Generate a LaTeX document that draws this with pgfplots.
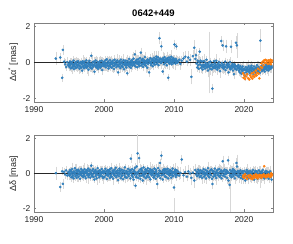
\documentclass[border=0pt]{standalone}
\usepackage{fontspec}
\setmainfont{Liberation Sans}
\usepackage{pgfplots}
\usepackage{pgfplotstable}
\pgfplotsset{compat=1.18}
\definecolor{mblue}{RGB}{49,128,189}
\definecolor{morange}{RGB}{255,127,14}
\definecolor{ebar}{RGB}{215,215,215}

\pgfplotstableread{
t da e dd
1993.12 0.22 0.30 0.02
1993.75 0.28 0.20 -0.77
1994.02 -0.85 0.15 0.12
1994.12 0.70 0.20 -0.59
1994.30 0.05 0.15 0.10
1994.45 -0.10 0.2 -0.05
1994.60 -0.25 0.15 0.18
1994.75 0.02 0.2 -0.12
1994.88 -0.15 0.12 0.06
1995.00 -0.07 0.12 0.10
1995.06 -0.24 0.18 -0.12
1995.14 0.06 0.10 0.20
1995.19 -0.15 0.25 -0.05
1995.26 -0.33 0.14 0.15
1995.32 -0.03 0.2 -0.22
1995.40 0.02 0.11 0.03
1995.45 -0.28 0.3 0.25
1995.52 -0.11 0.15 -0.10
1995.58 -0.20 0.12 0.07
1995.66 0.10 0.18 -0.28
1995.71 -0.37 0.1 0.12
1995.78 -0.06 0.25 -0.02
1995.84 -0.22 0.14 0.30
1995.92 0.00 0.2 -0.15
1995.97 -0.31 0.11 0.04
1996.04 -0.09 0.3 0.18
1996.10 0.04 0.15 -0.25
1996.18 -0.17 0.12 0.09
1996.23 -0.26 0.18 -0.07
1996.30 0.08 0.1 0.22
1996.36 -0.14 0.25 -0.18
1996.44 -0.02 0.14 0.01
1996.49 -0.35 0.2 0.14
1996.56 -0.04 0.11 -0.30
1996.62 -0.23 0.3 0.06
1996.70 0.03 0.15 -0.08
1996.75 -0.29 0.12 0.26
1996.82 -0.10 0.18 -0.13
1996.88 -0.45 0.10 0.02
1996.96 0.07 0.25 0.17
1997.01 -0.19 0.14 -0.21
1997.08 -0.01 0.2 0.08
1997.14 -0.32 0.11 -0.04
1997.22 -0.08 0.3 0.24
1997.27 0.05 0.15 -0.16
1997.34 -0.25 0.12 0.11
1997.40 -0.13 0.18 -0.27
1997.48 0.12 0.10 0.05
1997.53 -0.30 0.25 0.19
1997.60 -0.05 0.14 -0.09
1997.66 -0.21 0.2 0.00
1997.74 0.00 0.11 0.28
1997.79 -0.40 0.3 -0.20
1997.86 -0.12 0.15 0.13
1997.92 0.09 0.12 -0.06
1998.00 -0.27 0.18 0.21
1998.05 -0.06 0.1 -0.24
1998.12 -0.18 0.25 0.07
1998.18 0.38 0.14 0.45
1998.26 -0.34 0.2 -0.11
1998.31 -0.09 0.11 0.16
1998.38 0.02 0.3 -0.03
1998.44 -0.24 0.15 0.25
1998.52 -0.14 0.12 -0.19
1998.57 0.06 0.18 0.09
1998.64 -0.52 0.1 -0.35
1998.70 -0.03 0.25 0.03
1998.78 -0.20 0.14 0.20
1998.83 0.11 0.2 -0.14
1998.90 -0.28 0.11 0.10
1998.96 -0.08 0.3 -0.28
1999.04 -0.16 0.15 0.06
1999.09 0.04 0.12 0.31
1999.16 -0.36 0.18 -0.08
1999.22 -0.11 0.1 0.14
1999.30 -0.01 0.25 -0.22
1999.35 -0.23 0.14 0.04
1999.42 0.08 0.2 0.18
1999.48 -0.30 0.11 -0.12
1999.56 -0.07 0.3 0.08
1999.61 -0.19 0.15 -0.02
1999.68 0.10 0.12 0.26
1999.74 -0.42 0.18 -0.17
1999.82 -0.05 0.1 0.11
1999.87 -0.15 0.25 -0.26
1999.94 0.03 0.14 0.01
2000.00 -0.21 0.2 0.15
2000.07 0.00 0.11 -0.20
2000.13 -0.12 0.3 0.06
2000.20 0.12 0.15 0.27
2000.26 -0.27 0.12 -0.09
2000.33 -0.04 0.18 0.12
2000.39 0.18 0.1 -0.31
2000.46 -0.18 0.25 0.00
2000.52 -0.08 0.14 0.19
2000.59 0.06 0.2 -0.14
2000.65 -0.33 0.11 0.08
2000.72 -0.01 0.3 -0.04
2000.78 -0.15 0.15 0.23
2000.85 0.14 0.12 -0.25
2000.91 -0.24 0.18 0.10
2000.98 -0.06 0.1 -0.07
2001.04 0.03 0.25 0.30
2001.11 -0.29 0.14 -0.18
2001.17 -0.10 0.2 0.04
2001.24 0.09 0.11 0.16
2001.30 -0.20 0.3 -0.29
2001.37 -0.02 0.15 0.09
2001.43 -0.36 0.12 -0.06
2001.50 0.15 0.18 0.21
2001.56 -0.13 0.1 -0.12
2001.63 -0.05 0.25 0.02
2001.69 0.05 0.14 0.33
2001.76 -0.26 0.2 -0.21
2001.82 -0.09 0.11 0.07
2001.89 0.11 0.3 -0.10
2001.95 -0.17 0.15 0.18
2002.02 -0.55 0.12 -0.38
2002.08 0.01 0.18 0.05
2002.15 -0.22 0.1 -0.16
2002.21 0.07 0.25 0.28
2002.28 -0.11 0.14 -0.02
2002.34 -0.31 0.2 0.13
2002.41 0.16 0.11 -0.27
2002.47 -0.03 0.3 0.01
2002.54 -0.19 0.15 0.22
2002.60 0.04 0.12 -0.11
2002.67 -0.25 0.18 0.10
2002.73 -0.07 0.1 -0.33
2002.80 0.13 0.25 0.06
2002.86 -0.38 0.14 0.17
2002.93 -0.12 0.2 -0.08
2002.99 0.02 0.11 0.35
2003.06 -0.16 0.3 -0.19
2003.12 0.10 0.15 0.03
2003.19 -0.28 0.12 0.14
2003.25 -0.06 0.18 -0.24
2003.32 -0.60 0.10 0.08
2003.38 0.08 0.25 -0.05
2003.45 -0.14 0.14 0.26
2003.51 -0.02 0.2 -0.15
2003.58 0.20 0.11 0.11
2003.64 -0.23 0.3 -0.01
2003.71 -0.09 0.15 0.20
2003.77 0.06 0.12 -0.28
2003.84 -0.30 0.18 0.85
2003.90 -0.04 0.1 0.04
2003.97 0.14 0.25 -0.12
2004.03 -0.18 0.14 0.25
2004.10 0.05 0.2 -0.20
2004.16 -0.08 0.11 0.09
2004.23 0.22 0.3 -0.35
2004.29 -0.14 0.15 0.18
2004.36 0.02 0.12 -0.06
2004.42 0.45 0.18 0.32
2004.49 -0.22 0.1 -0.70
2004.55 0.08 0.25 0.06
2004.62 -0.05 0.14 -0.15
2004.68 0.15 0.2 0.40
2004.75 -0.27 0.11 -0.02
2004.81 0.01 0.3 1.15
2004.88 0.18 0.15 -0.25
2004.94 -0.11 0.12 0.12
2005.01 0.06 0.18 0.88
2005.07 -0.20 0.1 -0.09
2005.14 0.25 0.25 0.22
2005.20 -0.03 0.14 -0.31
2005.27 0.55 0.2 0.07
2005.33 -0.16 0.11 0.28
2005.40 0.09 0.3 -0.12
2005.46 -0.07 0.15 0.15
2005.53 0.20 0.12 -0.40
2005.59 -0.24 0.18 0.02
2005.66 0.03 0.1 0.35
2005.72 0.12 0.25 -0.18
2005.79 -0.12 0.14 0.10
2005.85 0.30 0.2 -0.05
2005.92 -0.04 0.11 0.24
2005.98 -0.19 0.3 -0.27
2006.05 0.10 0.15 0.05
2006.11 0.04 0.12 0.19
2006.18 -0.29 0.18 -0.14
2006.24 0.17 0.1 0.30
2006.31 -0.08 0.25 -0.08
2006.37 0.07 0.14 0.13
2006.44 -0.55 0.2 -0.22
2006.50 0.14 0.11 0.04
2006.57 -0.02 0.3 0.26
2006.63 0.24 0.15 -0.33
2006.70 -0.15 0.12 0.08
2006.76 0.05 0.18 0.17
2006.83 -0.06 0.1 -0.11
2006.89 0.19 0.25 0.21
2006.96 -0.21 0.14 -0.03
2007.02 0.13 0.2 0.14
2007.09 -0.05 0.11 -0.23
2007.15 0.26 0.3 0.09
2007.22 0.02 0.15 0.28
2007.28 -0.12 0.12 -0.10
2007.35 0.18 0.18 0.05
2007.41 0.08 0.1 -0.30
2007.48 0.33 0.25 0.20
2007.54 -0.08 0.14 -0.04
2007.61 0.15 0.2 -0.60
2007.67 0.00 0.11 -0.18
2007.74 0.28 0.3 0.31
2007.80 -0.15 0.15 0.02
2007.87 0.11 0.12 -0.12
2007.93 1.35 0.25 0.16
2008.00 0.04 0.18 0.60
2008.06 0.21 0.1 -0.26
2008.13 -0.03 0.25 0.07
2008.19 0.90 0.2 1.02
2008.26 0.16 0.14 -0.08
2008.32 0.06 0.2 0.11
2008.39 -0.50 0.11 -0.34
2008.45 0.24 0.3 0.19
2008.52 0.09 0.15 -0.05
2008.58 -0.10 0.12 0.25
2008.65 0.30 0.18 0.15
2008.71 0.12 0.1 -0.16
2008.78 -0.02 0.25 0.04
2008.84 0.19 0.14 0.23
2008.91 0.07 0.2 -0.21
2008.97 -0.16 0.11 0.10
2009.04 0.23 0.3 -0.01
2009.10 0.05 0.15 0.27
2009.17 -0.85 0.12 -0.28
2009.23 0.14 0.18 0.06
2009.30 0.28 0.1 0.15
2009.36 -0.07 0.25 -0.11
2009.43 0.10 0.14 0.20
2009.49 0.20 0.2 -0.07
2009.56 0.01 0.11 0.09
2009.62 0.32 0.3 -0.24
2009.69 -0.10 0.15 0.13
2009.75 0.15 0.12 0.02
2009.82 0.06 0.18 0.28
2009.88 0.25 0.1 -0.15
2009.95 -0.04 0.25 0.07
2010.01 0.18 0.14 -0.80
2010.08 1.00 0.2 0.12
2010.14 0.08 0.11 -0.06
2010.21 -0.06 0.3 0.22
2010.27 0.20 0.15 -0.20
2010.34 0.90 0.12 0.05
2010.40 0.11 0.18 0.18
2010.47 -0.02 0.1 -0.09
2010.60 0.05 0.2 0.10
2010.75 0.15 0.15 -0.12
2010.92 -0.08 0.25 0.03
2011.10 0.10 0.2 0.80
2011.35 0.22 0.3 -0.10
2011.60 0.32 0.25 0.08
2011.85 0.05 0.2 -0.18
2012.05 0.28 0.3 0.12
2012.30 0.15 0.25 0.00
2012.50 -0.80 0.35 -0.25
2012.70 0.35 0.3 0.05
2012.90 0.82 0.35 -0.40
2013.05 0.20 0.25 0.20
2013.15 0.40 0.3 -0.05
2013.25 -0.05 0.2 0.10
2013.32 -0.28 0.15 -0.15
2013.39 0.10 0.3 0.05
2013.46 -0.15 0.2 0.22
2013.53 -0.35 0.15 -0.08
2013.60 0.02 0.25 0.15
2013.67 0.60 0.12 -0.20
2013.74 -0.10 0.2 0.03
2013.81 0.10 0.15 0.18
2013.88 -0.30 0.2 -0.12
2013.95 -0.18 0.12 0.08
2014.02 0.05 0.25 -0.25
2014.09 -0.40 0.15 0.12
2014.16 -0.12 0.2 -0.02
2014.23 -0.25 0.12 0.25
2014.30 0.08 0.3 -0.18
2014.37 -0.20 0.15 0.06
2014.44 -0.33 0.2 -0.10
2014.51 -0.02 0.12 0.20
2014.58 -0.18 0.25 -0.28
2014.65 0.15 0.15 0.02
2014.72 -0.28 0.2 0.14
2014.79 -0.08 0.12 -0.06
2014.86 -0.45 0.3 0.30
2014.93 -0.15 0.15 -0.15
2015.00 0.00 0.2 0.09
2015.07 -0.24 0.12 -0.22
2015.14 -0.35 0.25 0.04
2015.21 0.05 0.15 0.18
2015.28 -0.20 0.2 -0.10
2015.35 -0.10 0.12 0.24
2015.42 -0.38 0.3 -0.30
2015.49 -1.45 0.2 -0.60
2015.56 -0.12 0.15 0.08
2015.63 -0.30 0.2 -0.18
2015.70 0.08 0.12 0.12
2015.77 -0.22 0.25 -0.04
2015.84 -0.05 0.15 0.28
2015.91 -0.32 0.2 -0.14
2015.98 -0.15 0.12 0.06
2016.05 0.10 0.3 -0.26
2016.12 -0.26 0.15 0.16
2016.19 -0.40 0.2 -0.02
2016.26 -0.08 0.12 0.21
2016.33 -0.20 0.25 -0.12
2016.40 0.02 0.15 0.03
2016.47 -0.30 0.2 0.26
2016.54 -0.12 0.12 -0.20
2016.61 -0.48 0.3 0.10
2016.68 -0.18 0.15 -0.08
2016.75 1.20 0.2 0.18
2016.82 -0.03 0.12 -0.28
2016.89 -0.28 0.25 0.05
2016.96 0.95 0.25 0.70
2017.03 -0.22 0.15 -0.12
2017.10 -0.35 0.2 0.14
2017.17 -0.10 0.12 -0.05
2017.24 -0.25 0.25 0.22
2017.31 0.05 0.15 -0.18
2017.38 -0.42 0.2 0.08
2017.45 0.90 0.3 -0.02
2017.52 -0.15 0.12 0.18
2017.59 -0.30 0.25 -0.25
2017.66 -0.05 0.15 0.12
2017.73 -0.20 0.2 0.75
2017.80 -0.55 0.12 -0.40
2017.87 -0.12 0.25 0.02
2017.94 -0.28 0.15 -0.65
2018.01 0.02 0.2 0.20
2018.08 -0.38 0.12 -0.10
2018.15 0.88 0.3 0.08
2018.22 -0.18 0.15 -0.22
2018.29 -0.30 0.2 0.15
2018.36 -0.08 0.12 -0.05
2018.43 -0.45 0.25 0.25
2018.50 -0.22 0.15 -0.15
2018.57 -0.65 0.2 0.05
2018.64 -0.10 0.12 0.18
2018.71 -0.35 0.25 -0.28
2018.78 -0.18 0.15 0.10
2018.85 1.10 0.3 -0.08
2018.92 -0.40 0.2 0.60
2018.99 0.95 0.6 0.40
2019.06 -0.25 0.15 -0.12
2019.13 -0.32 0.2 0.15
2019.20 -0.15 0.12 0.02
2019.27 -0.45 0.25 -0.20
2019.34 -0.28 0.15 0.10
2019.41 -0.55 0.2 -0.08
2019.48 -0.20 0.12 0.18
2019.55 -0.38 0.25 -0.25
2019.62 -0.62 0.15 0.05
2019.69 -0.30 0.2 -0.12
2019.76 -0.48 0.12 0.12
2019.83 -0.22 0.25 -0.30
2019.90 -0.40 0.15 0.00
2019.97 -0.58 0.2 -0.18
2020.04 -0.35 0.12 0.15
2020.11 -0.72 0.25 -0.06
2020.18 -0.42 0.15 -0.40
2020.25 -0.25 0.2 0.08
2020.32 -0.55 0.12 -0.15
2020.39 -0.38 0.25 0.20
2020.46 -0.65 0.15 -0.22
2020.53 -0.30 0.2 -0.02
2020.60 -0.48 0.12 0.12
2020.67 -0.20 0.25 -0.28
2020.74 -0.52 0.15 0.04
2020.81 -0.35 0.2 -0.10
2020.88 -0.60 0.12 0.15
2020.95 -0.28 0.25 -0.18
2021.02 -0.45 0.15 0.02
2021.09 -0.18 0.2 -0.25
2021.16 -0.50 0.12 0.10
2021.23 -0.32 0.25 -0.08
2021.30 -0.62 0.15 0.20
2021.37 -0.40 0.2 -0.15
2021.44 -0.22 0.12 -0.35
2021.51 -0.48 0.25 0.06
2021.58 -0.35 0.15 -0.12
2021.65 -0.55 0.2 0.15
2021.72 -0.28 0.12 -0.05
2021.79 -0.42 0.25 -0.22
2021.86 -0.15 0.15 0.12
2021.93 -0.38 0.2 -0.30
2022.00 -0.52 0.12 0.00
2022.07 -0.25 0.25 -0.15
2022.14 -0.45 0.15 0.18
2022.21 -0.30 0.2 -0.08
2022.28 -0.58 0.12 0.10
2022.35 1.22 0.55 -0.20
2022.42 -0.35 0.15 0.05
2022.49 -0.20 0.2 -0.25
2022.56 -0.48 0.12 0.12
2022.63 -0.30 0.25 -0.10
2022.70 -0.42 0.15 0.20
2022.77 -0.15 0.2 -0.18
2022.84 -0.38 0.12 0.02
2022.91 -0.25 0.25 -0.28
2022.98 -0.50 0.15 0.08
2023.05 -0.22 0.2 -0.12
2023.12 -0.35 0.12 0.15
2023.19 -0.12 0.25 -0.05
2023.26 -0.40 0.15 -0.22
2023.33 -0.28 0.2 0.10
2023.40 -0.18 0.12 -0.15
2023.47 -0.45 0.25 0.05
2023.54 -0.30 0.15 -0.30
2023.61 -0.10 0.2 0.00
2023.68 -0.38 0.12 -0.12
2023.75 -0.25 0.25 0.12
2023.82 -0.15 0.15 -0.20
2023.89 -0.32 0.2 -0.05
2023.96 -0.20 0.12 -0.35
}\bluetab

% second, interleaved set of sessions in the dense years
\pgfplotstableread{
t da e dd
1995.03 -0.18 0.12 -0.02
1995.23 -0.08 0.15 0.12
1995.49 -0.25 0.12 -0.18
1995.75 -0.14 0.15 0.08
1996.01 -0.28 0.12 -0.10
1996.27 -0.12 0.15 0.15
1996.53 -0.20 0.12 -0.05
1996.79 -0.06 0.15 0.10
1997.05 -0.24 0.12 -0.14
1997.31 -0.15 0.15 0.04
1997.57 -0.22 0.12 0.16
1997.83 -0.09 0.15 -0.08
1998.09 -0.30 0.12 0.02
1998.35 -0.16 0.15 -0.16
1998.61 -0.11 0.12 0.12
1998.87 -0.19 0.15 -0.04
1999.13 -0.26 0.12 0.09
1999.39 -0.13 0.15 -0.12
1999.65 -0.21 0.12 0.05
1999.91 -0.10 0.15 -0.20
2000.17 -0.16 0.12 0.10
2000.43 -0.05 0.15 -0.06
2000.69 -0.20 0.12 0.14
2000.95 -0.11 0.15 -0.15
2001.21 -0.02 0.12 0.02
2001.47 -0.18 0.15 -0.10
2001.73 -0.08 0.12 0.12
2001.99 -0.14 0.15 -0.02
2002.25 -0.03 0.12 0.18
2002.51 -0.20 0.15 -0.14
2002.77 -0.09 0.12 0.06
2003.03 -0.01 0.15 -0.22
2003.29 -0.15 0.12 0.10
2003.55 -0.06 0.15 -0.04
2003.81 -0.12 0.12 0.16
2004.07 0.04 0.15 -0.08
2004.33 -0.10 0.12 0.12
2004.59 0.10 0.15 -0.22
2004.85 -0.06 0.12 0.05
2005.11 0.02 0.15 -0.14
2005.37 0.14 0.12 0.20
2005.63 -0.08 0.15 -0.06
2005.89 0.06 0.12 0.10
2006.15 -0.04 0.15 -0.18
2006.41 0.10 0.12 0.14
2006.67 0.00 0.15 -0.02
2006.93 0.12 0.12 0.08
2007.19 0.06 0.15 -0.14
2007.45 0.20 0.12 0.10
2007.71 0.04 0.15 -0.06
2007.97 0.16 0.12 0.16
2008.23 0.02 0.15 -0.10
2008.49 0.18 0.12 0.04
2008.75 0.08 0.15 -0.18
2009.01 0.14 0.12 0.12
2009.27 0.00 0.15 -0.04
2009.53 0.16 0.12 0.16
2009.79 0.08 0.15 -0.12
2010.05 0.12 0.12 0.02
2010.31 0.04 0.15 -0.08
2014.13 -0.22 0.15 0.06
2014.48 -0.12 0.15 -0.08
2014.83 -0.25 0.15 0.10
2015.18 -0.15 0.15 -0.05
2015.53 -0.24 0.15 0.14
2015.88 -0.18 0.15 -0.10
2016.23 -0.28 0.15 0.04
2016.58 -0.20 0.15 -0.14
2016.93 -0.14 0.15 0.10
2017.28 -0.24 0.15 -0.02
2017.63 -0.18 0.15 0.06
2017.98 -0.26 0.15 -0.12
2018.33 -0.20 0.15 0.12
2018.68 -0.30 0.15 -0.04
2019.03 -0.22 0.15 0.08
2019.38 -0.35 0.15 -0.10
2019.73 -0.42 0.15 0.04
2020.08 -0.38 0.15 -0.12
2020.43 -0.45 0.15 0.06
2020.78 -0.40 0.15 -0.06
2021.13 -0.36 0.15 0.08
2021.48 -0.42 0.15 -0.14
2021.83 -0.30 0.15 0.02
2022.18 -0.38 0.15 -0.10
2022.53 -0.32 0.15 0.04
2022.88 -0.28 0.15 -0.08
2023.23 -0.25 0.15 0.06
2023.58 -0.22 0.15 -0.12
2023.93 -0.28 0.15 -0.02
}\bluetabb

% error bars of points outside the plotted range
\pgfplotstableread{
t da e dd
2015.10 0.00 1.65 nan
2018.10 nan 1.25 -0.95
2010.05 nan 1.10 -2.60
2004.70 nan 0.90 1.30
}\extratab

\pgfplotstableread{
t da dd
2019.85 -0.60 -0.20
2019.95 -0.85 -0.10
2020.05 -0.70 -0.25
2020.15 -0.92 -0.05
2020.30 -0.78 -0.18
2020.45 -0.65 -0.30
2020.60 -0.88 -0.12
2020.75 -0.95 -0.22
2020.90 -0.72 -0.08
2021.00 -0.82 -0.28
2021.10 -0.60 -0.15
2021.20 -0.90 -0.32
2021.30 -0.75 -0.20
2021.40 -0.55 -0.10
2021.50 -0.80 -0.25
2021.60 -0.68 -0.18
2021.70 -0.45 -0.05
2021.80 -0.72 -0.22
2021.90 -0.58 -0.12
2022.00 -0.35 -0.28
2022.10 -0.62 -0.15
2022.20 -0.88 -0.08
2022.30 -0.42 -0.20
2022.40 -0.25 -0.12
2022.50 -0.05 -0.25
2022.60 -0.30 -0.10
2022.70 0.05 -0.18
2022.80 -0.15 -0.05
2022.90 0.12 0.42
2023.00 -0.02 -0.15
2023.10 0.15 -0.22
2023.20 0.00 -0.10
2023.30 0.10 -0.18
2023.40 -0.08 -0.12
2023.50 0.12 -0.05
2023.60 0.05 -0.15
2023.70 -0.05 -0.20
2023.80 0.15 -0.08
2023.85 -0.10 -0.18
2023.90 0.08 0.02
2023.95 0.02 -0.12
2024.00 0.12 -0.05
}\orangetab

\pgfplotsset{
  panel/.style={
    scale only axis, width=239pt,
    xmin=1990, xmax=2024.15, ymin=-2.2, ymax=2.2,
    xtick={1990,2000,2010,2020}, ytick={-2,0,2},
    tick align=inside, major tick length=2.5pt,
    axis line style={black!50, line width=0.5pt},
    tick style={black!50, line width=0.5pt},
    tick label style={font=\fontsize{8.5}{10}\selectfont, text=black!85},
    label style={font=\fontsize{9}{11}\selectfont, text=black!85},
    /pgf/number format/assume math mode=true,
    /pgf/number format/set thousands separator={},
    anchor=south west,
    ylabel style={yshift=-2pt},
    xticklabel style={yshift=-1pt},
  },
  ebars/.style={draw=none, mark=none, forget plot,
    error bars/.cd, y dir=both, y explicit,
    error bar style={draw=ebar, line width=0.35pt},
    error mark options={draw=ebar, mark size=1.3pt, line width=0.35pt}},
  bluepts/.style={only marks, mark=*, mark size=1.1pt, mblue, forget plot},
  orangepts/.style={only marks, mark=*, mark size=1.1pt, morange, forget plot},
}

\begin{document}
\begin{tikzpicture}
\useasboundingbox (0,0) rectangle (293pt,244pt);
\begin{axis}[panel, at={(34pt,142pt)}, height=79pt,
  title={0642+449},
  title style={font=\fontsize{9.5}{11}\selectfont\bfseries, yshift=-3pt},
  ylabel={Δα\textsuperscript{*} [mas]}]
\addplot[ebars] table[x=t, y=da, y error=e] {\bluetab};
\addplot[ebars] table[x=t, y=da, y error=e] {\bluetabb};
\addplot[ebars] table[x=t, y=da, y error=e] {\extratab};
\addplot[black!85, line width=0.5pt, forget plot] coordinates {(1990,0) (2024.15,0)};
\addplot[bluepts] table[x=t, y=da] {\bluetabb};
\addplot[bluepts] table[x=t, y=da] {\bluetab};
\addplot[orangepts] table[x=t, y=da] {\orangetab};
\end{axis}
\begin{axis}[panel, at={(34pt,32pt)}, height=77pt,
  ylabel={Δδ [mas]}]
\addplot[ebars] table[x=t, y=dd, y error=e] {\bluetab};
\addplot[ebars] table[x=t, y=dd, y error=e] {\bluetabb};
\addplot[ebars] table[x=t, y=dd, y error=e] {\extratab};
\addplot[black!85, line width=0.5pt, forget plot] coordinates {(1990,0) (2024.15,0)};
\addplot[bluepts] table[x=t, y=dd] {\bluetabb};
\addplot[bluepts] table[x=t, y=dd] {\bluetab};
\addplot[orangepts] table[x=t, y=dd] {\orangetab};
\end{axis}
\end{tikzpicture}
\end{document}
